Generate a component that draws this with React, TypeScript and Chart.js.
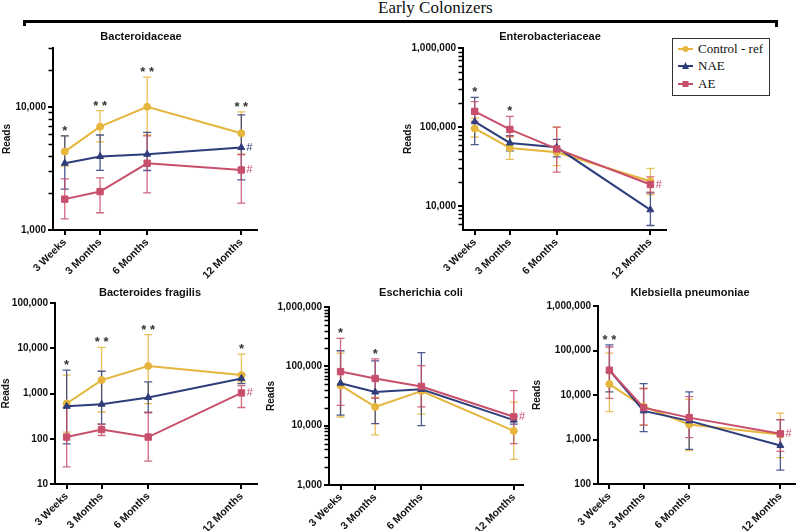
import React, { useEffect, useRef } from 'react';
import { Chart, registerables } from 'chart.js';

Chart.register(...registerables);

// ---------- shared ----------
const TIME_MONTHS = [0.75, 3, 6, 12];
const TIME_LABELS = ['3 Weeks', '3 Months', '6 Months', '12 Months'];
const SERIES_NAMES = ['Control - ref', 'NAE', 'AE'];
const SERIES_COLORS = ['#E5B53C', '#2E3D7B', '#C84F6C'];
const SERIES_MARKERS = ['circle', 'triangle', 'rect'];

// ---------- Bacteroidaceae ----------
const BAC_CONTROL = [4330, 6900, 10000, 6100];
const BAC_CONTROL_LOW = [3300, 5200, 5900, 4100];
const BAC_CONTROL_HIGH = [5800, 9300, 17400, 9100];
const BAC_NAE = [3480, 3950, 4120, 4670];
const BAC_NAE_LOW = [2150, 3050, 3040, 2550];
const BAC_NAE_HIGH = [5800, 5900, 6200, 8600];
const BAC_AE = [1780, 2050, 3480, 3070];
const BAC_AE_LOW = [1230, 1380, 2000, 1650];
const BAC_AE_HIGH = [2600, 2650, 5800, 4100];
const BAC_STARS = ['*', '**', '**', '**'];
const BAC_HASH = [false, true, true];

// ---------- Enterobacteriaceae ----------
const ENT_CONTROL = [96000, 54500, 48000, 20700];
const ENT_CONTROL_LOW = [75000, 39000, 32500, 14000];
const ENT_CONTROL_HIGH = [130000, 75000, 100000, 30000];
const ENT_NAE = [117000, 63000, 55500, 9000];
const ENT_NAE_LOW = [60000, 50000, 42000, 5700];
const ENT_NAE_HIGH = [238000, 78000, 70000, 14700];
const ENT_AE = [158000, 93500, 53000, 18800];
const ENT_AE_LOW = [118000, 77000, 27000, 15000];
const ENT_AE_HIGH = [210000, 137000, 100000, 23500];
const ENT_STARS = ['*', '*', '', ''];
const ENT_HASH = [false, false, true];

// ---------- Bacteroides fragilis ----------
const BF_CONTROL = [600, 1980, 4050, 2550];
const BF_CONTROL_LOW = [140, 390, 600, 1800];
const BF_CONTROL_HIGH = [2550, 10500, 20000, 7400];
const BF_NAE = [520, 580, 815, 2150];
const BF_NAE_LOW = [77, 210, 380, 1650];
const BF_NAE_HIGH = [3300, 3100, 1800, 2600];
const BF_AE = [109, 160, 109, 1030];
const BF_AE_LOW = [24, 118, 32, 490];
const BF_AE_HIGH = [500, 210, 380, 1500];
const BF_STARS = ['*', '**', '**', '*'];
const BF_HASH = [false, false, true];

// ---------- Escherichia coli ----------
const EC_CONTROL = [47600, 20700, 38300, 8150];
const EC_CONTROL_LOW = [14000, 7000, 15600, 2700];
const EC_CONTROL_HIGH = [167000, 30000, 45000, 25000];
const EC_NAE = [52000, 36900, 40900, 12400];
const EC_NAE_LOW = [15000, 10800, 10000, 10600];
const EC_NAE_HIGH = [183000, 124000, 170000, 14500];
const EC_AE = [81500, 62300, 45800, 14100];
const EC_AE_LOW = [22000, 29000, 20700, 5000];
const EC_AE_HIGH = [296000, 134000, 103000, 39000];
const EC_STARS = ['*', '*', '', ''];
const EC_HASH = [false, false, true];

// ---------- Klebsiella pneumoniae ----------
const KP_CONTROL = [17600, 5500, 2170, 1290];
const KP_CONTROL_LOW = [4240, 2100, 560, 390];
const KP_CONTROL_HIGH = [87000, 14000, 8000, 3900];
const KP_NAE = [36200, 4400, 2620, 735];
const KP_NAE_LOW = [11800, 1500, 600, 205];
const KP_NAE_HIGH = [134000, 18000, 11800, 2800];
const KP_AE = [36000, 5200, 3100, 1340];
const KP_AE_LOW = [8400, 2100, 1100, 540];
const KP_AE_HIGH = [120000, 14000, 9200, 2800];
const KP_STARS = ['**', '', '', ''];
const KP_HASH = [false, false, true];

const SANS = "'Liberation Sans', Arial, Helvetica, sans-serif";
const SERIF = "'Liberation Serif', 'Times New Roman', Times, serif";

type Series = { mean: number[]; low: number[]; high: number[] };
type PanelCfg = {
  title: string;
  series: Series[];
  stars: string[];
  hash: boolean[];
  yMin: number;
  yMax: number;
  xMax: number;
  minor: boolean;
  area: { l: number; r: number; t: number; b: number };
  titleX: number;
  titleY: number;
  readsX: number;
};

const PANELS: PanelCfg[] = [
  {
    title: 'Bacteroidaceae',
    series: [
      { mean: BAC_CONTROL, low: BAC_CONTROL_LOW, high: BAC_CONTROL_HIGH },
      { mean: BAC_NAE, low: BAC_NAE_LOW, high: BAC_NAE_HIGH },
      { mean: BAC_AE, low: BAC_AE_LOW, high: BAC_AE_HIGH },
    ],
    stars: BAC_STARS, hash: BAC_HASH,
    yMin: 1000, yMax: 30000, xMax: 13, minor: true,
    area: { l: 53, r: 257, t: 48, b: 230 }, titleX: 141, titleY: 37, readsX: 7,
  },
  {
    title: 'Enterobacteriaceae',
    series: [
      { mean: ENT_CONTROL, low: ENT_CONTROL_LOW, high: ENT_CONTROL_HIGH },
      { mean: ENT_NAE, low: ENT_NAE_LOW, high: ENT_NAE_HIGH },
      { mean: ENT_AE, low: ENT_AE_LOW, high: ENT_AE_HIGH },
    ],
    stars: ENT_STARS, hash: ENT_HASH,
    yMin: 5000, yMax: 1000000, xMax: 13, minor: true,
    area: { l: 463, r: 666, t: 48, b: 230 }, titleX: 550, titleY: 37, readsX: 408,
  },
  {
    title: 'Bacteroides fragilis',
    series: [
      { mean: BF_CONTROL, low: BF_CONTROL_LOW, high: BF_CONTROL_HIGH },
      { mean: BF_NAE, low: BF_NAE_LOW, high: BF_NAE_HIGH },
      { mean: BF_AE, low: BF_AE_LOW, high: BF_AE_HIGH },
    ],
    stars: BF_STARS, hash: BF_HASH,
    yMin: 10, yMax: 100000, xMax: 13, minor: false,
    area: { l: 55, r: 257, t: 303, b: 484 }, titleX: 150, titleY: 293, readsX: 6,
  },
  {
    title: 'Escherichia coli',
    series: [
      { mean: EC_CONTROL, low: EC_CONTROL_LOW, high: EC_CONTROL_HIGH },
      { mean: EC_NAE, low: EC_NAE_LOW, high: EC_NAE_HIGH },
      { mean: EC_AE, low: EC_AE_LOW, high: EC_AE_HIGH },
    ],
    stars: EC_STARS, hash: EC_HASH,
    yMin: 1000, yMax: 1000000, xMax: 12.6, minor: true,
    area: { l: 329, r: 523, t: 307, b: 485 }, titleX: 421, titleY: 293, readsX: 271,
  },
  {
    title: 'Klebsiella pneumoniae',
    series: [
      { mean: KP_CONTROL, low: KP_CONTROL_LOW, high: KP_CONTROL_HIGH },
      { mean: KP_NAE, low: KP_NAE_LOW, high: KP_NAE_HIGH },
      { mean: KP_AE, low: KP_AE_LOW, high: KP_AE_HIGH },
    ],
    stars: KP_STARS, hash: KP_HASH,
    yMin: 100, yMax: 1000000, xMax: 12.93, minor: false,
    area: { l: 598, r: 797, t: 306, b: 484 }, titleX: 690, titleY: 293, readsX: 537,
  },
];

function getBox(cfg: PanelCfg) {
  const left = Math.max(0, cfg.area.l - 66);
  const top = cfg.titleY - 14;
  const right = Math.min(800, cfg.area.r + 24);
  const bottom = Math.min(531, cfg.area.b + 60);
  return {
    left, top, w: right - left, h: bottom - top,
    yAxisW: cfg.area.l - left,
    padTop: cfg.area.t - top,
    padRight: right - cfg.area.r,
    xAxisH: bottom - cfg.area.b,
  };
}

function decadesBetween(min: number, max: number) {
  const out: number[] = [];
  for (let e = Math.ceil(Math.log10(min) - 1e-9); Math.pow(10, e) <= max * 1.0001; e++) {
    out.push(Math.pow(10, e));
  }
  return out;
}

function Panel({ cfg }: { cfg: PanelCfg }) {
  const ref = useRef<HTMLCanvasElement | null>(null);
  const box = getBox(cfg);

  useEffect(() => {
    if (!ref.current) return;
    const overlay = {
      id: 'overlay',
      beforeDatasetsDraw(chart: any) {
        const ctx = chart.ctx;
        const xs = chart.scales.x;
        const ys = chart.scales.y;
        ctx.save();
        cfg.series.forEach((s, si) => {
          ctx.strokeStyle = SERIES_COLORS[si];
          ctx.globalAlpha = 0.85;
          ctx.lineWidth = 1.3;
          TIME_MONTHS.forEach((t, i) => {
            const x = xs.getPixelForValue(t);
            const y1 = ys.getPixelForValue(s.low[i]);
            const y2 = ys.getPixelForValue(s.high[i]);
            ctx.beginPath();
            ctx.moveTo(x, y1);
            ctx.lineTo(x, y2);
            ctx.moveTo(x - 4, y1);
            ctx.lineTo(x + 4, y1);
            ctx.moveTo(x - 4, y2);
            ctx.lineTo(x + 4, y2);
            ctx.stroke();
          });
        });
        ctx.restore();
      },
      afterDraw(chart: any) {
        const ctx = chart.ctx;
        const xs = chart.scales.x;
        const ys = chart.scales.y;
        const ca = chart.chartArea;
        ctx.save();
        // minor log ticks
        if (cfg.minor) {
          ctx.strokeStyle = '#000';
          ctx.lineWidth = 1.5;
          const e0 = Math.floor(Math.log10(cfg.yMin));
          const e1 = Math.ceil(Math.log10(cfg.yMax));
          for (let e = e0; e <= e1; e++) {
            for (let m = 2; m <= 9; m++) {
              const v = m * Math.pow(10, e);
              if (v <= cfg.yMin || v > cfg.yMax * 1.0001) continue;
              const y = Math.round(ys.getPixelForValue(v)) + 0.5;
              ctx.beginPath();
              ctx.moveTo(ca.left - 1, y);
              ctx.lineTo(ca.left - 4.5, y);
              ctx.stroke();
            }
          }
        }
        // significance stars
        ctx.fillStyle = '#333';
        ctx.font = `bold 13px ${SANS}`;
        ctx.textAlign = 'center';
        ctx.textBaseline = 'alphabetic';
        cfg.stars.forEach((s, i) => {
          if (!s) return;
          const x = xs.getPixelForValue(TIME_MONTHS[i]);
          let topY = Infinity;
          cfg.series.forEach((ser) => {
            topY = Math.min(topY, ys.getPixelForValue(ser.high[i]));
          });
          ctx.fillText(s.split('').join(' '), x, topY - 1);
        });
        // hash marks
        ctx.font = `italic 11px ${SANS}`;
        ctx.textAlign = 'left';
        ctx.textBaseline = 'middle';
        const last = TIME_MONTHS.length - 1;
        cfg.hash.forEach((h, si) => {
          if (!h) return;
          ctx.fillStyle = SERIES_COLORS[si];
          const x = xs.getPixelForValue(TIME_MONTHS[last]);
          const y = ys.getPixelForValue(cfg.series[si].mean[last]);
          ctx.fillText('#', x + 5, y);
        });
        // panel title
        ctx.fillStyle = '#111';
        ctx.font = `bold 11px ${SANS}`;
        ctx.textAlign = 'center';
        ctx.textBaseline = 'middle';
        ctx.fillText(cfg.title, cfg.titleX - box.left, cfg.titleY - box.top);
        // y axis title
        ctx.translate(cfg.readsX - box.left, (ca.top + ca.bottom) / 2);
        ctx.rotate(-Math.PI / 2);
        ctx.font = `bold 10px ${SANS}`;
        ctx.fillText('Reads', 0, 0);
        ctx.restore();
      },
    };

    const datasets = cfg.series.map((s, si) => ({
      label: SERIES_NAMES[si],
      data: TIME_MONTHS.map((t, i) => ({ x: t, y: s.mean[i] })),
      borderColor: SERIES_COLORS[si],
      backgroundColor: SERIES_COLORS[si],
      borderWidth: 2,
      pointStyle: SERIES_MARKERS[si] as any,
      pointRadius: si === 2 ? 4.5 : si === 1 ? 4 : 3.5,
      pointBorderWidth: 1,
      tension: 0,
      order: 3 - si,
      clip: false as any,
    }));

    const chart = new Chart(ref.current, {
      type: 'line',
      data: { datasets },
      plugins: [overlay],
      options: {
        animation: false,
        responsive: false,
        maintainAspectRatio: false,
        layout: { padding: { top: box.padTop, right: box.padRight, left: 0, bottom: 0 } },
        plugins: { legend: { display: false }, tooltip: { enabled: false }, title: { display: false } },
        scales: {
          x: {
            type: 'linear',
            min: 0,
            max: cfg.xMax,
            afterBuildTicks: (scale: any) => {
              scale.ticks = TIME_MONTHS.map((v) => ({ value: v }));
            },
            afterFit: (scale: any) => {
              scale.height = box.xAxisH;
            },
            ticks: {
              autoSkip: false,
              minRotation: 45,
              maxRotation: 45,
              padding: 1,
              color: '#111',
              font: { family: SANS, size: 10.5, weight: 'bold' },
              callback: (_v: any, i: number) => TIME_LABELS[i],
            },
            grid: { drawOnChartArea: false, drawTicks: true, tickLength: 5, color: '#000', lineWidth: 2 },
            border: { display: true, color: '#000', width: 2 },
          },
          y: {
            type: 'logarithmic',
            min: cfg.yMin,
            max: cfg.yMax,
            afterBuildTicks: (scale: any) => {
              scale.ticks = decadesBetween(cfg.yMin, cfg.yMax).map((v) => ({ value: v, major: true }));
            },
            afterFit: (scale: any) => {
              scale.width = box.yAxisW;
            },
            ticks: {
              autoSkip: false,
              padding: 2,
              color: '#111',
              font: { family: SANS, size: 10, weight: 'bold' },
              callback: (v: any) => Number(v).toLocaleString('en-US'),
            },
            grid: { drawOnChartArea: false, drawTicks: true, tickLength: 5, color: '#000', lineWidth: 2 },
            border: { display: true, color: '#000', width: 2 },
          },
        },
      } as any,
    });
    return () => chart.destroy();
  }, []);

  return (
    <canvas
      ref={ref}
      width={box.w}
      height={box.h}
      style={{ position: 'absolute', left: box.left, top: box.top, width: box.w, height: box.h }}
    />
  );
}

function Marker({ i }: { i: number }) {
  const c = SERIES_COLORS[i];
  let shape: React.ReactNode;
  if (i === 0) shape = <circle cx={7.5} cy={6} r={3} fill={c} />;
  else if (i === 1) shape = <polygon points="7.5,2 11,9 4,9" fill={c} />;
  else shape = <rect x={4.5} y={3} width={6} height={6} fill={c} />;
  return (
    <svg width={15} height={12} style={{ display: 'block' }}>
      <line x1={0} y1={6} x2={15} y2={6} stroke={c} strokeWidth={2} />
      {shape}
    </svg>
  );
}

function Legend() {
  return (
    <div
      style={{
        position: 'absolute', left: 672, top: 38, width: 98, height: 58,
        border: '1px solid #333', boxSizing: 'border-box', background: '#fff',
      }}
    >
      {SERIES_NAMES.map((n, i) => (
        <div
          key={n}
          style={{
            position: 'absolute', left: 5, top: 1.5 + i * 17.5, height: 16,
            display: 'flex', alignItems: 'center', whiteSpace: 'nowrap',
          }}
        >
          <Marker i={i} />
          <span style={{ marginLeft: 5, font: `13px ${SERIF}`, color: '#111', lineHeight: '16px' }}>{n}</span>
        </div>
      ))}
    </div>
  );
}

export default function App() {
  return (
    <div style={{ position: 'absolute', left: 0, top: 0, width: 800, height: 531, background: '#fff', overflow: 'hidden' }}>
      <div
        style={{
          position: 'absolute', left: 378, top: -2.5, height: 17, lineHeight: '17px',
          font: `17px ${SERIF}`, color: '#111', whiteSpace: 'nowrap',
        }}
      >
        Early Colonizers
      </div>
      <div style={{ position: 'absolute', left: 23, top: 19.5, width: 755, height: 3, background: '#000' }} />
      <div style={{ position: 'absolute', left: 23, top: 19.5, width: 3, height: 6, background: '#000' }} />
      <div style={{ position: 'absolute', left: 775, top: 19.5, width: 3, height: 7, background: '#000' }} />
      {PANELS.map((p) => (
        <Panel key={p.title} cfg={p} />
      ))}
      <Legend />
    </div>
  );
}
